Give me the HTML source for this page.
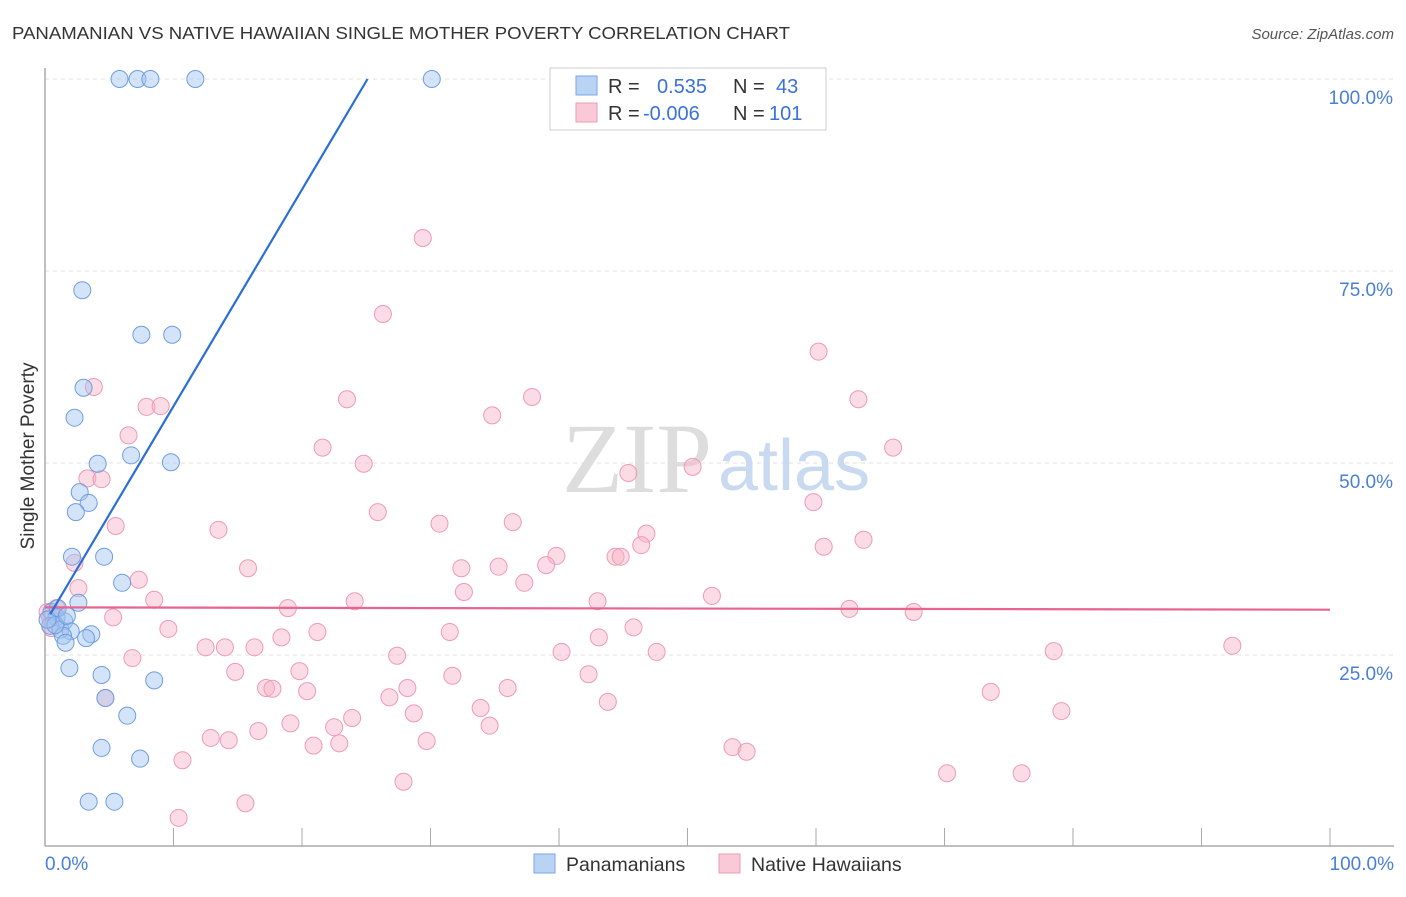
<!DOCTYPE html>
<html><head><meta charset="utf-8"><style>
body{margin:0;background:#fff;font-family:"Liberation Sans",sans-serif;}
</style></head><body>
<svg width="1406" height="892" viewBox="0 0 1406 892" xmlns="http://www.w3.org/2000/svg">
<text x="12" y="39" font-size="17.5" fill="#333" textLength="778" lengthAdjust="spacingAndGlyphs">PANAMANIAN VS NATIVE HAWAIIAN SINGLE MOTHER POVERTY CORRELATION CHART</text>
<text x="1394" y="39" font-size="15" fill="#555" font-style="italic" text-anchor="end">Source: ZipAtlas.com</text>
<g id="grid"></g>
<text x="712" y="492" font-size="100" fill="#ddd" text-anchor="end" font-family="Liberation Serif">ZIP</text>
<text x="718" y="490" font-size="72" fill="#c9daf0">atlas</text>
<line x1="45" y1="68" x2="45" y2="846" stroke="#aaa" stroke-width="1.5"/>
<line x1="45" y1="846" x2="1394" y2="846" stroke="#aaa" stroke-width="1.5"/>
<text transform="translate(34,456) rotate(-90)" font-size="19" fill="#333" text-anchor="middle">Single Mother Poverty</text>
<text x="45" y="870" font-size="19" fill="#4a7fd6">0.0%</text>
<text x="1394" y="870" font-size="19" fill="#4a7fd6" text-anchor="end">100.0%</text>
<g id="marks"></g>
<g>
<rect x="550" y="68" width="276" height="62" fill="#fff" stroke="#ccc"/>
<rect x="576" y="76" width="21" height="19" fill="#b9d3f5" stroke="#7aa6e6"/>
<rect x="576" y="103" width="21" height="19" fill="#f9c9d7" stroke="#ee9bb3"/>
<text x="608" y="93" font-size="20" fill="#333">R = </text>
<text x="657" y="93" font-size="20" fill="#3a72d8">0.535</text>
<text x="733" y="93" font-size="20" fill="#333">N = </text>
<text x="776" y="93" font-size="20" fill="#3a72d8">43</text>
<text x="608" y="120" font-size="20" fill="#333">R = </text>
<text x="643" y="120" font-size="20" fill="#3a72d8">-0.006</text>
<text x="733" y="120" font-size="20" fill="#333">N = </text>
<text x="769" y="120" font-size="20" fill="#3a72d8">101</text>
</g>
<g>
<rect x="534" y="854" width="21" height="19" fill="#b9d3f5" stroke="#7aa6e6"/>
<text x="566" y="871" font-size="19.5" fill="#333">Panamanians</text>
<rect x="719" y="854" width="21" height="19" fill="#f9c9d7" stroke="#ee9bb3"/>
<text x="751" y="871" font-size="19.5" fill="#333">Native Hawaiians</text>
</g>
</svg>
<script>
const yTicks=[25,50,75,100];
const yTickLabels=["25.0%","50.0%","75.0%","100.0%"];
const xTicks=[10,20,30,40,50,60,70,80,90,100];
const blueX=[5.8,7.2,8.2,11.7,30.1,2.9,7.5,9.9,3.0,2.3,6.7,4.1,9.8,2.7,3.4,2.4,2.1,4.6,6.0,2.6,0.5,0.9,1.5,0.4,1.2,2.0,1.4,3.6,3.2,1.6,1.9,4.4,8.5,4.7,6.4,4.4,7.4,3.4,5.4,0.8,0.2,1.0,1.7];
const blueY=[100,100,100,100,100,72.5,66.7,66.7,59.8,55.9,51,49.9,50.1,46.2,44.8,43.6,37.8,37.8,34.4,31.8,30.6,29.9,29.4,28.8,28.3,28.1,27.5,27.7,27.2,26.6,23.3,22.4,21.7,19.4,17.1,12.9,11.5,5.9,5.9,28.9,29.6,31.1,30.1];
const pinkX=[29.4,26.3,60.2,3.8,7.9,9.0,23.5,37.9,63.3,34.8,6.5,21.6,66.0,24.8,50.4,45.4,3.3,4.4,59.8,25.9,36.4,30.7,5.5,13.5,46.8,63.7,46.4,60.6,39.8,44.4,44.8,39.0,2.3,15.8,32.4,35.3,7.3,37.3,2.6,32.6,51.9,8.5,24.1,43.0,18.9,62.6,67.6,0.9,5.3,45.8,9.6,21.2,31.5,18.4,43.1,12.5,14,16.3,92.4,40.2,47.6,78.5,6.8,27.4,19.8,14.8,31.7,42.3,17.2,17.7,20.4,28.2,36.0,26.8,73.6,4.7,43.8,33.9,79.1,28.7,23.9,19.1,34.6,22.5,16.6,12.9,14.3,29.7,22.9,20.9,53.5,54.6,10.7,70.2,76,27.9,15.6,10.4,0.4,0.5,0.2];
const pinkY=[79.3,69.4,64.5,59.9,57.3,57.4,58.3,58.6,58.3,56.2,53.6,52,52,49.9,49.5,48.7,48,47.9,44.9,43.6,42.3,42.1,41.8,41.3,40.8,40,39.3,39.1,37.9,37.8,37.8,36.7,37,36.3,36.3,36.5,34.8,34.4,33.7,33.2,32.7,32.2,32,32,31.1,31,30.6,31.1,29.9,28.6,28.4,28,28,27.3,27.3,26,26,26,26.2,25.4,25.4,25.5,24.6,24.9,22.9,22.8,22.3,22.5,20.7,20.6,20.3,20.7,20.7,19.5,20.2,19.4,18.9,18.1,17.7,17.4,16.8,16.1,15.8,15.6,15.1,14.2,13.9,13.8,13.5,13.2,13,12.4,11.3,9.6,9.6,8.5,5.7,3.8,29.8,28.5,30.6];
const blueFit=[0.4,30.3,25.1,100];
const pinkFit=[0,31.2,100,30.9];
const NS="http://www.w3.org/2000/svg";
const sx=v=>45+v*12.85, sy=v=>847-v*7.68;
const grid=document.getElementById('grid'), marks=document.getElementById('marks');
function mk(tag,attrs,parent){const e=document.createElementNS(NS,tag);for(const k in attrs)e.setAttribute(k,attrs[k]);parent.appendChild(e);return e;}
yTicks.forEach((t,i)=>{
 const l=mk('line',{x1:45,x2:1394,y1:sy(t),y2:sy(t),stroke:'#e2e2e2','stroke-dasharray':'4,4'},grid);
 
 
 const tx=mk('text',{x:1393,y:sy(t)+25,'font-size':19,fill:'#4a7fd6','text-anchor':'end'},grid);
 tx.textContent=yTickLabels[i];
 
 
});
xTicks.forEach(t=>{
 const l=mk('line',{x1:sx(t),x2:sx(t),y1:828,y2:846,stroke:'#aaa'},grid);
 
 
});
pinkX.forEach((x,i)=>{
 const c=mk('circle',{cx:sx(x),cy:sy(pinkY[i]),r:8.5,fill:'rgba(246,178,200,0.45)',stroke:'#ee9bb3','stroke-width':1},marks);
 
 
});
blueX.forEach((x,i)=>{
 const c=mk('circle',{cx:sx(x),cy:sy(blueY[i]),r:8.5,fill:'rgba(160,195,240,0.45)',stroke:'#6f9de0','stroke-width':1},marks);
 
 
});
const pl=mk('line',{x1:sx(pinkFit[0]),y1:sy(pinkFit[1]),x2:sx(pinkFit[2]),y2:sy(pinkFit[3]),stroke:'#e8648e','stroke-width':2.2},marks);


const bl=mk('line',{x1:sx(blueFit[0]),y1:sy(blueFit[1]),x2:sx(blueFit[2]),y2:sy(blueFit[3]),stroke:'#2b6fd4','stroke-width':2.2},marks);


</script>
</body></html>
